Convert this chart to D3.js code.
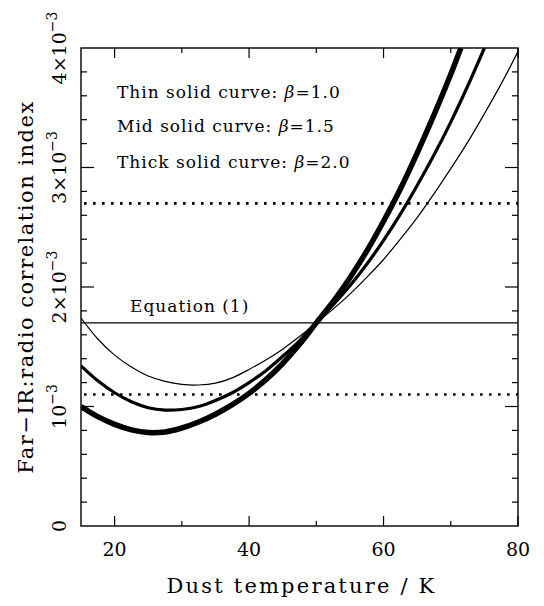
<!DOCTYPE html>
<html>
<head>
<meta charset="utf-8">
<script src="https://cdn.jsdelivr.net/npm/d3@7"></script>
<style>
  body { margin: 0; background: #fff; }
  svg text { font-family: "DejaVu Serif", "Liberation Serif", serif; fill: #000; }
</style>
</head>
<body>
<div id="chart"></div>
<script>
// values (index in units of 1e-3)
const tempThin = [15, 17.5, 20, 22.5, 25, 27.5, 30, 32.5, 35, 37.5, 40, 42.5, 45, 47.5, 50, 52.5, 55, 57.5, 60, 62.5, 65, 67.5, 70, 72.5, 75, 77.5, 80];
const indexThin = [1.74, 1.565, 1.43, 1.33, 1.255, 1.21, 1.185, 1.18, 1.195, 1.24, 1.31, 1.39, 1.48, 1.585, 1.70, 1.815, 1.94, 2.08, 2.23, 2.40, 2.58, 2.78, 2.99, 3.21, 3.45, 3.70, 3.97];

const tempMid = [15, 17.5, 20, 22.5, 25, 27.5, 30, 32.5, 35, 37.5, 40, 42.5, 45, 47.5, 50, 52.5, 55, 57.5, 60, 62.5, 65, 67.5, 70, 72.5, 75];
const indexMid = [1.34, 1.215, 1.115, 1.04, 0.99, 0.97, 0.975, 1.0, 1.05, 1.115, 1.20, 1.30, 1.42, 1.55, 1.70, 1.85, 2.01, 2.19, 2.39, 2.61, 2.85, 3.105, 3.38, 3.68, 4.0];

const tempThick = [15, 17.5, 20, 22.5, 25, 27.5, 30, 32.5, 35, 37.5, 40, 42.5, 45, 47.5, 50, 52.5, 55, 57.5, 60, 62.5, 65, 67.5, 70, 71.5];
const indexThick = [1.00, 0.915, 0.85, 0.805, 0.782, 0.787, 0.82, 0.87, 0.935, 1.015, 1.11, 1.225, 1.36, 1.52, 1.70, 1.877, 2.078, 2.30, 2.55, 2.82, 3.12, 3.44, 3.78, 4.0];

const equationLevel = 1.70;
const dottedLevels = [1.10, 2.70];

const xTicks = [20, 30, 40, 50, 60, 70, 80];
const xLabels = [20, 40, 60, 80];
const yMajor = [0, 1, 2, 3, 4];
const yLabels = ["0", "10", "2×10", "3×10", "4×10"];

const legendLines = [
  ["Thin solid curve: ", "β", "=1.0"],
  ["Mid solid curve: ", "β", "=1.5"],
  ["Thick solid curve: ", "β", "=2.0"],
];

const width = 544, height = 606;
const pLeft = 81, pRight = 518, pTop = 48, pBottom = 526;

const svg = d3.select("#chart").append("svg")
  .attr("width", width).attr("height", height);

const x = d3.scaleLinear().domain([15, 80]).range([pLeft, pRight]);
const y = d3.scaleLinear().domain([0, 4]).range([pBottom, pTop]);

svg.append("clipPath").attr("id", "plot")
  .append("rect").attr("x", pLeft).attr("y", pTop)
  .attr("width", pRight - pLeft).attr("height", pBottom - pTop);

// frame
svg.append("rect")
  .attr("x", pLeft).attr("y", pTop)
  .attr("width", pRight - pLeft).attr("height", pBottom - pTop)
  .style("fill", "none").style("stroke", "#000").style("stroke-width", 1.4);

// ticks, inward on all four sides
const xMinor = xTicks.filter((t) => !xLabels.includes(t));
const yMinor = d3.range(0.2, 4, 0.2).filter((v) => Math.abs(v - Math.round(v)) > 0.01);

function xTickMarks(vals, len) {
  svg.append("g").selectAll("line").data(vals).enter().append("line")
    .attr("x1", (d) => x(d)).attr("x2", (d) => x(d))
    .attr("y1", pBottom).attr("y2", pBottom - len)
    .style("stroke", "#000").style("stroke-width", 1.2);
  svg.append("g").selectAll("line").data(vals).enter().append("line")
    .attr("x1", (d) => x(d)).attr("x2", (d) => x(d))
    .attr("y1", pTop).attr("y2", pTop + len)
    .style("stroke", "#000").style("stroke-width", 1.2);
}
function yTickMarks(vals, len) {
  svg.append("g").selectAll("line").data(vals).enter().append("line")
    .attr("x1", pLeft).attr("x2", pLeft + len)
    .attr("y1", (d) => y(d)).attr("y2", (d) => y(d))
    .style("stroke", "#000").style("stroke-width", 1.2);
  svg.append("g").selectAll("line").data(vals).enter().append("line")
    .attr("x1", pRight).attr("x2", pRight - len)
    .attr("y1", (d) => y(d)).attr("y2", (d) => y(d))
    .style("stroke", "#000").style("stroke-width", 1.2);
}
xTickMarks(xLabels, 10);
xTickMarks(xMinor, 5);
yTickMarks(yMajor.filter((v) => v > 0 && v < 4), 13);
yTickMarks(yMinor, 6);

// x tick labels
svg.append("g").selectAll("text").data(xLabels).enter().append("text")
  .attr("x", (d) => x(d)).attr("y", 556)
  .attr("text-anchor", "middle")
  .style("font-size", "19px")
  .text((d) => d);

// y tick labels (rotated)
yMajor.forEach((v, i) => {
  const t = svg.append("text")
    .attr("transform", "translate(66," + y(v) + ") rotate(-90)")
    .attr("text-anchor", "middle")
    .style("font-size", "19px");
  t.append("tspan").text(yLabels[i]);
  if (v > 0) {
    t.append("tspan").attr("dy", -9).style("font-size", "14px").text("−3");
  }
});

// axis titles
svg.append("text")
  .attr("x", (pLeft + pRight) / 2 + 2).attr("y", 593)
  .attr("text-anchor", "middle")
  .style("font-size", "21px")
  .style("letter-spacing", "2.2px")
  .text("Dust temperature / K");

svg.append("text")
  .attr("transform", "translate(33," + (pTop + pBottom) / 2 + ") rotate(-90)")
  .attr("text-anchor", "middle")
  .style("font-size", "21px")
  .style("letter-spacing", "1.5px")
  .text("Far−IR:radio correlation index");

// reference lines
const plot = svg.append("g").attr("clip-path", "url(#plot)");

plot.append("line")
  .attr("x1", pLeft).attr("x2", pRight)
  .attr("y1", y(equationLevel)).attr("y2", y(equationLevel))
  .style("stroke", "#000").style("stroke-width", 1.4);

plot.selectAll(".dotted").data(dottedLevels).enter().append("line")
  .attr("class", "dotted")
  .attr("x1", pLeft + 3).attr("x2", pRight)
  .attr("y1", (d) => y(d)).attr("y2", (d) => y(d))
  .style("stroke", "#000").style("stroke-width", 2.6)
  .style("stroke-dasharray", "2.6,6.4");

svg.append("text")
  .attr("x", 130).attr("y", 312)
  .style("font-size", "17px")
  .style("letter-spacing", "1px")
  .text("Equation (1)");

// curves
const line = d3.line()
  .x((d) => x(d[0]))
  .y((d) => y(d[1]))
  .curve(d3.curveCatmullRom);

const curves = [
  { t: tempThin, v: indexThin, w: 1.2 },
  { t: tempMid, v: indexMid, w: 3.2 },
  { t: tempThick, v: indexThick, w: 5.5 },
];
curves.forEach((c) => {
  plot.append("path")
    .attr("d", line(d3.zip(c.t, c.v)))
    .style("fill", "none")
    .style("stroke", "#000")
    .style("stroke-width", c.w)
    .style("stroke-linejoin", "round");
});

// legend text
const legendY = [98, 132, 168];
legendLines.forEach((parts, i) => {
  const t = svg.append("text")
    .attr("x", 117).attr("y", legendY[i])
    .style("font-size", "17px")
    .style("letter-spacing", "1px");
  t.append("tspan").text(parts[0]);
  t.append("tspan").style("font-style", "italic").text(parts[1]);
  t.append("tspan").text(parts[2]);
});
</script>
</body>
</html>
